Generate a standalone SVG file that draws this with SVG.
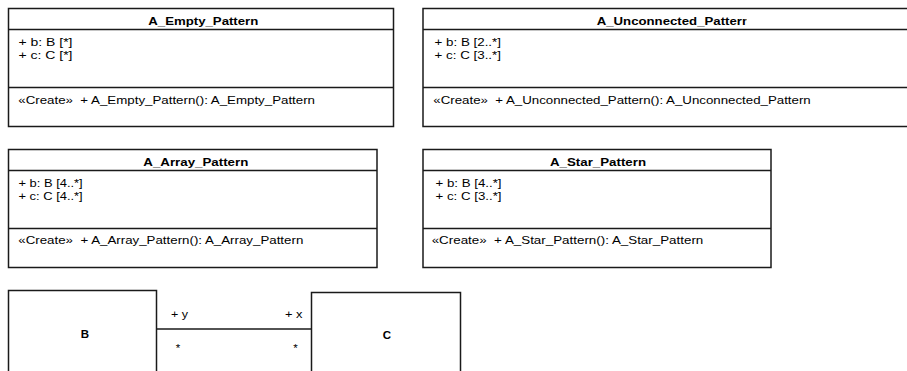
<svg xmlns="http://www.w3.org/2000/svg" width="907" height="371" viewBox="0 0 907 371">
<style>
.box{fill:#fff;stroke:#1a1a1a;stroke-width:1.5}
.ln{stroke:#1a1a1a;stroke-width:1.5;fill:none}
text{font-family:"Liberation Sans",Arial,sans-serif;font-size:11.5px;fill:#000;white-space:pre}
.t{font-weight:bold}
</style>
<defs>
<clipPath id="clipU"><rect x="423" y="8" width="323.5" height="30"/></clipPath>
</defs>
<rect width="907" height="371" fill="#fff"/>
<g id="A_Empty_Pattern">
<rect class="box" x="8.5" y="8.5" width="385" height="118"/>
<line class="ln" x1="8.5" y1="29.5" x2="393.5" y2="29.5"/>
<line class="ln" x1="8.5" y1="87.5" x2="393.5" y2="87.5"/>
<text class="t" x="148.3" y="24.5" textLength="110" lengthAdjust="spacingAndGlyphs">A_Empty_Pattern</text>
<text x="18.5" y="46" textLength="54" lengthAdjust="spacingAndGlyphs">+ b: B [*]</text>
<text x="18.5" y="59" textLength="54" lengthAdjust="spacingAndGlyphs">+ c: C [*]</text>
<text x="18.3" y="103.5" textLength="296.7" lengthAdjust="spacingAndGlyphs" xml:space="preserve">«Create»  + A_Empty_Pattern(): A_Empty_Pattern</text>
</g>
<g id="A_Unconnected_Pattern">
<rect class="box" x="423" y="8.5" width="500" height="118"/>
<line class="ln" x1="423" y1="29.5" x2="923" y2="29.5"/>
<line class="ln" x1="423" y1="87.5" x2="923" y2="87.5"/>
<text class="t" x="596.7" y="24.5" textLength="153.3" lengthAdjust="spacingAndGlyphs" clip-path="url(#clipU)">A_Unconnected_Pattern</text>
<text x="434.5" y="46" textLength="66.5" lengthAdjust="spacingAndGlyphs">+ b: B [2..*]</text>
<text x="434.5" y="59" textLength="66.5" lengthAdjust="spacingAndGlyphs">+ c: C [3..*]</text>
<text x="433.3" y="103.5" textLength="377.4" lengthAdjust="spacingAndGlyphs" xml:space="preserve">«Create»  + A_Unconnected_Pattern(): A_Unconnected_Pattern</text>
</g>
<g id="A_Array_Pattern">
<rect class="box" x="8.5" y="149.5" width="368.5" height="118"/>
<line class="ln" x1="8.5" y1="170.5" x2="377" y2="170.5"/>
<line class="ln" x1="8.5" y1="228.5" x2="377" y2="228.5"/>
<text class="t" x="143.3" y="165.5" textLength="105" lengthAdjust="spacingAndGlyphs">A_Array_Pattern</text>
<text x="18.5" y="187" textLength="64.2" lengthAdjust="spacingAndGlyphs">+ b: B [4..*]</text>
<text x="18.5" y="200" textLength="64.2" lengthAdjust="spacingAndGlyphs">+ c: C [4..*]</text>
<text x="18.3" y="244" textLength="285" lengthAdjust="spacingAndGlyphs" xml:space="preserve">«Create»  + A_Array_Pattern(): A_Array_Pattern</text>
</g>
<g id="A_Star_Pattern">
<rect class="box" x="423" y="149.5" width="348" height="118"/>
<line class="ln" x1="423" y1="170.5" x2="771" y2="170.5"/>
<line class="ln" x1="423" y1="228.5" x2="771" y2="228.5"/>
<text class="t" x="550" y="165.5" textLength="96" lengthAdjust="spacingAndGlyphs">A_Star_Pattern</text>
<text x="435.5" y="187" textLength="66" lengthAdjust="spacingAndGlyphs">+ b: B [4..*]</text>
<text x="435.5" y="200" textLength="66" lengthAdjust="spacingAndGlyphs">+ c: C [3..*]</text>
<text x="431.7" y="244" textLength="271.6" lengthAdjust="spacingAndGlyphs" xml:space="preserve">«Create»  + A_Star_Pattern(): A_Star_Pattern</text>
</g>
<g id="B">
<rect class="box" x="8.5" y="290.5" width="148" height="100"/>
<text class="t" x="85" y="338" text-anchor="middle">B</text>
</g>
<g id="C">
<rect class="box" x="311.5" y="292.5" width="149" height="100"/>
<text class="t" x="387" y="339" text-anchor="middle">C</text>
</g>
<g id="connectors">
<line class="ln" x1="156.5" y1="329" x2="311.5" y2="329"/>
<text x="171" y="318" textLength="17" lengthAdjust="spacingAndGlyphs">+ y</text>
<text x="285" y="318" textLength="17.5" lengthAdjust="spacingAndGlyphs">+ x</text>
<text x="178" y="352" text-anchor="middle">*</text>
<text x="295.5" y="352" text-anchor="middle">*</text>
</g>
</svg>
